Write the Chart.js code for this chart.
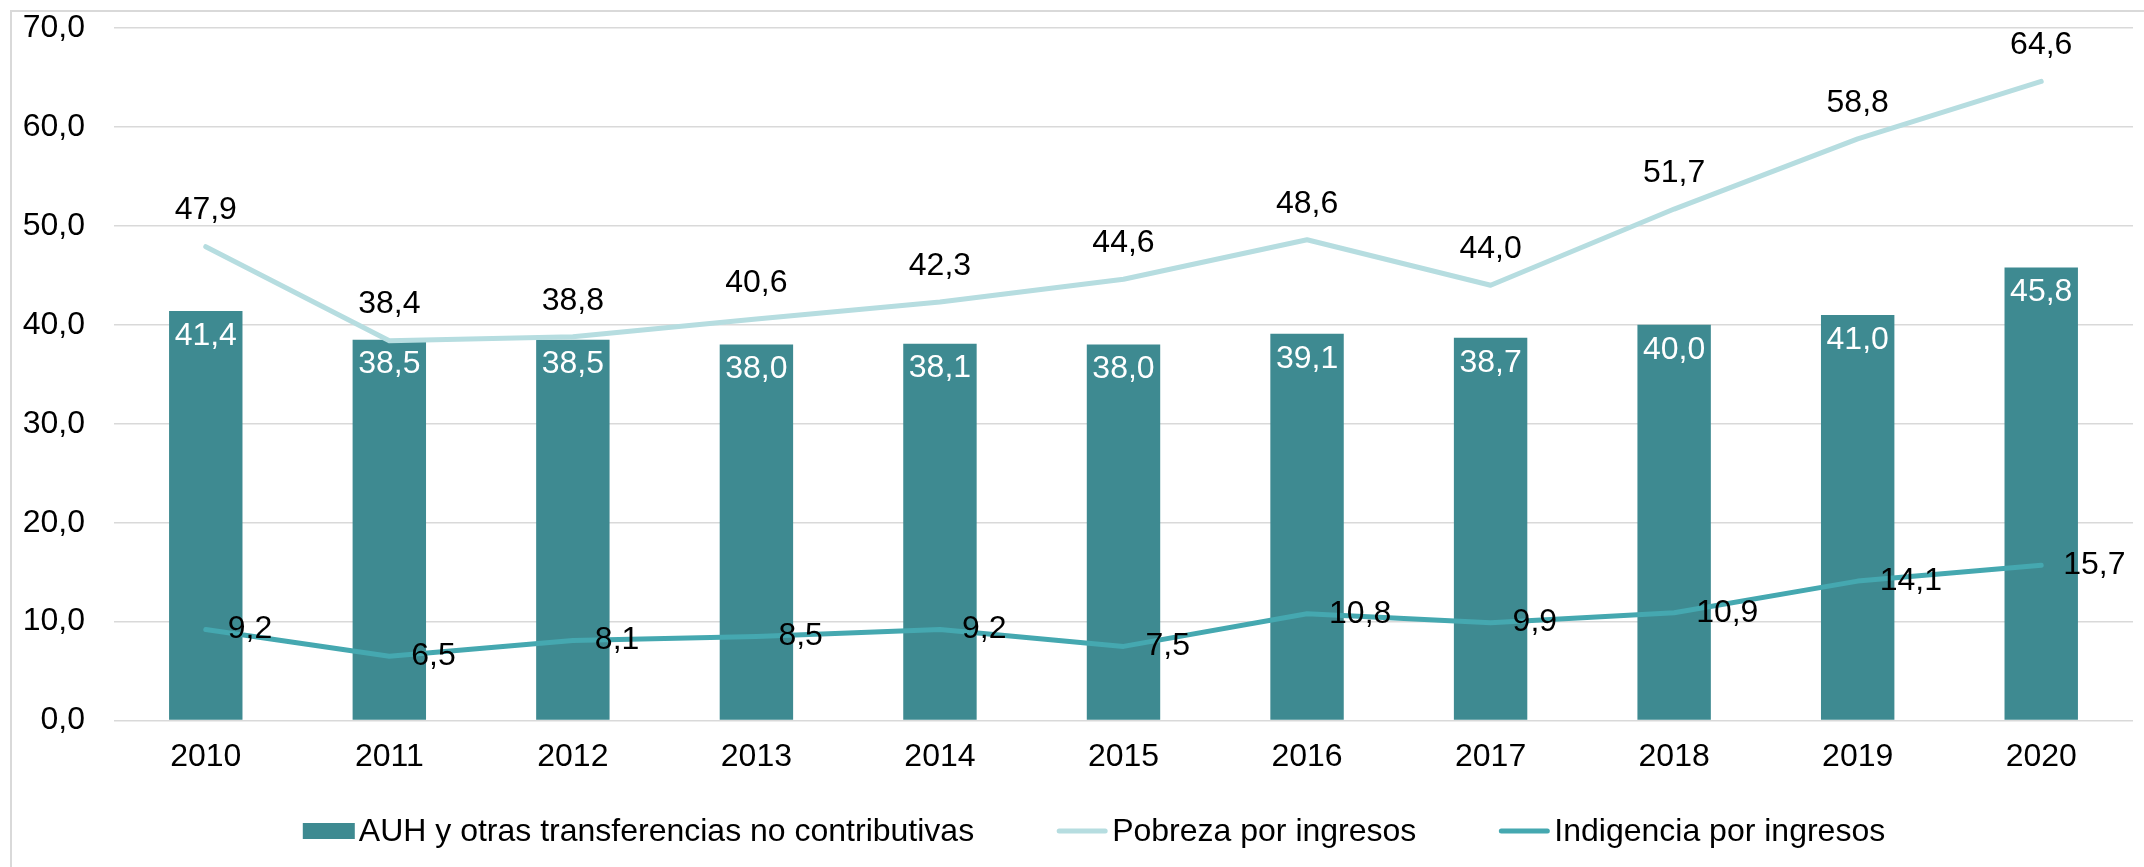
<!DOCTYPE html>
<html>
<head>
<meta charset="utf-8">
<script src="https://cdn.jsdelivr.net/npm/chart.js@4.4.1/dist/chart.umd.min.js"></script>
<style>
  html, body { margin: 0; padding: 0; background: #ffffff; }
  #wrap { width: 2144px; height: 867px; position: relative; }
</style>
</head>
<body>
<div id="wrap"><canvas id="c" width="2144" height="867"></canvas></div>
<script>
const categories = ['2010','2011','2012','2013','2014','2015','2016','2017','2018','2019','2020'];
const auhValues = [41.4, 38.5, 38.5, 38.0, 38.1, 38.0, 39.1, 38.7, 40.0, 41.0, 45.8];
const pobrezaValues = [47.9, 38.4, 38.8, 40.6, 42.3, 44.6, 48.6, 44.0, 51.7, 58.8, 64.6];
const indigenciaValues = [9.2, 6.5, 8.1, 8.5, 9.2, 7.5, 10.8, 9.9, 10.9, 14.1, 15.7];
const seriesNames = ['AUH y otras transferencias no contributivas', 'Pobreza por ingresos', 'Indigencia por ingresos'];
const yMin = 0, yMax = 70, yStep = 10;

const COL_BAR = '#3E8A91';
const COL_POB = '#B6DDE0';
const COL_IND = '#45A8B0';
const GRID = '#D9D9D9';
const FONT = '"Liberation Sans", Arial, sans-serif';
const FS = 32;

const fmt = v => v.toFixed(1).replace('.', ',');

const labelsPlugin = {
  id: 'valueLabels',
  afterDatasetsDraw(chart) {
    const ctx = chart.ctx;
    ctx.save();
    ctx.font = FS + 'px ' + FONT;
    ctx.textBaseline = 'middle';
    chart.data.datasets.forEach((ds, di) => {
      const meta = chart.getDatasetMeta(di);
      meta.data.forEach((el, i) => {
        const t = fmt(ds.data[i]);
        if (ds.labelMode === 'insideEnd') {
          ctx.fillStyle = '#FFFFFF';
          ctx.textAlign = 'center';
          ctx.fillText(t, el.x, el.y + 25);
        } else if (ds.labelMode === 'above') {
          ctx.fillStyle = '#000000';
          ctx.textAlign = 'center';
          ctx.fillText(t, el.x, el.y - 36);
        } else if (ds.labelMode === 'right') {
          ctx.fillStyle = '#000000';
          ctx.textAlign = 'left';
          ctx.fillText(t, el.x + 22, el.y);
        }
      });
    });
    ctx.restore();
  }
};

const frameLegendPlugin = {
  id: 'frameLegend',
  afterDraw(chart) {
    const ctx = chart.ctx;
    ctx.save();
    ctx.strokeStyle = GRID;
    ctx.lineWidth = 2;
    ctx.beginPath();
    ctx.moveTo(11, 867);
    ctx.lineTo(11, 11);
    ctx.lineTo(2144, 11);
    ctx.stroke();

    ctx.font = FS + 'px ' + FONT;
    ctx.textBaseline = 'middle';
    ctx.textAlign = 'left';
    const symW = 52, gapText = 4, gapItem = 82;
    const items = chart.data.datasets.map(ds => ({ text: ds.label, type: ds.type, color: ds.borderColor, bg: ds.backgroundColor }));
    let total = 0;
    items.forEach((it, i) => { it.w = ctx.measureText(it.text).width; total += symW + gapText + it.w + (i < items.length - 1 ? gapItem : 0); });
    const centerX = 1094;
    const yC = 831;
    let x = centerX - total / 2;
    items.forEach(it => {
      if (it.type === 'bar') {
        ctx.fillStyle = it.bg;
        ctx.fillRect(x, yC - 8, symW, 16);
      } else {
        ctx.strokeStyle = it.color;
        ctx.lineWidth = 5;
        ctx.lineCap = 'round';
        ctx.beginPath();
        ctx.moveTo(x + 3, yC);
        ctx.lineTo(x + symW - 3, yC);
        ctx.stroke();
      }
      ctx.fillStyle = '#000000';
      ctx.fillText(it.text, x + symW + gapText, yC + 1);
      x += symW + gapText + it.w + gapItem;
    });
    ctx.restore();
  }
};

const chart = new Chart(document.getElementById('c'), {
  data: {
    labels: categories,
    datasets: [
      {
        type: 'bar', label: seriesNames[0], data: auhValues,
        backgroundColor: COL_BAR, borderColor: COL_BAR, borderWidth: 0,
        categoryPercentage: 1.0, barPercentage: 0.4,
        order: 2, labelMode: 'insideEnd'
      },
      {
        type: 'line', label: seriesNames[1], data: pobrezaValues,
        borderColor: COL_POB, backgroundColor: COL_POB, borderWidth: 5,
        pointRadius: 0, tension: 0, borderCapStyle: 'round', borderJoinStyle: 'round',
        order: 1, labelMode: 'above'
      },
      {
        type: 'line', label: seriesNames[2], data: indigenciaValues,
        borderColor: COL_IND, backgroundColor: COL_IND, borderWidth: 5,
        pointRadius: 0, tension: 0, borderCapStyle: 'round', borderJoinStyle: 'round',
        order: 0, labelMode: 'right'
      }
    ]
  },
  options: {
    responsive: false,
    animation: false,
    devicePixelRatio: 1,
    layout: { padding: { top: 28, right: 11, bottom: 74, left: 0 } },
    plugins: {
      legend: { display: false },
      tooltip: { enabled: false },
      title: { display: false }
    },
    scales: {
      x: {
        type: 'category',
        offset: true,
        grid: { display: false, drawTicks: false },
        border: { display: false },
        ticks: { color: '#000000', font: { family: FONT, size: FS }, padding: 17, maxRotation: 0 }
      },
      y: {
        type: 'linear',
        min: yMin, max: yMax,
        afterFit(scale) { scale.width = 114; scale.paddingTop = 0; scale.paddingBottom = 0; },
        grid: { color: GRID, lineWidth: 1.5, drawTicks: false },
        border: { display: false },
        ticks: {
          stepSize: yStep, color: '#000000', padding: 29,
          font: { family: FONT, size: FS },
          callback: v => fmt(v)
        }
      }
    }
  },
  plugins: [labelsPlugin, frameLegendPlugin]
});
</script>
</body>
</html>
